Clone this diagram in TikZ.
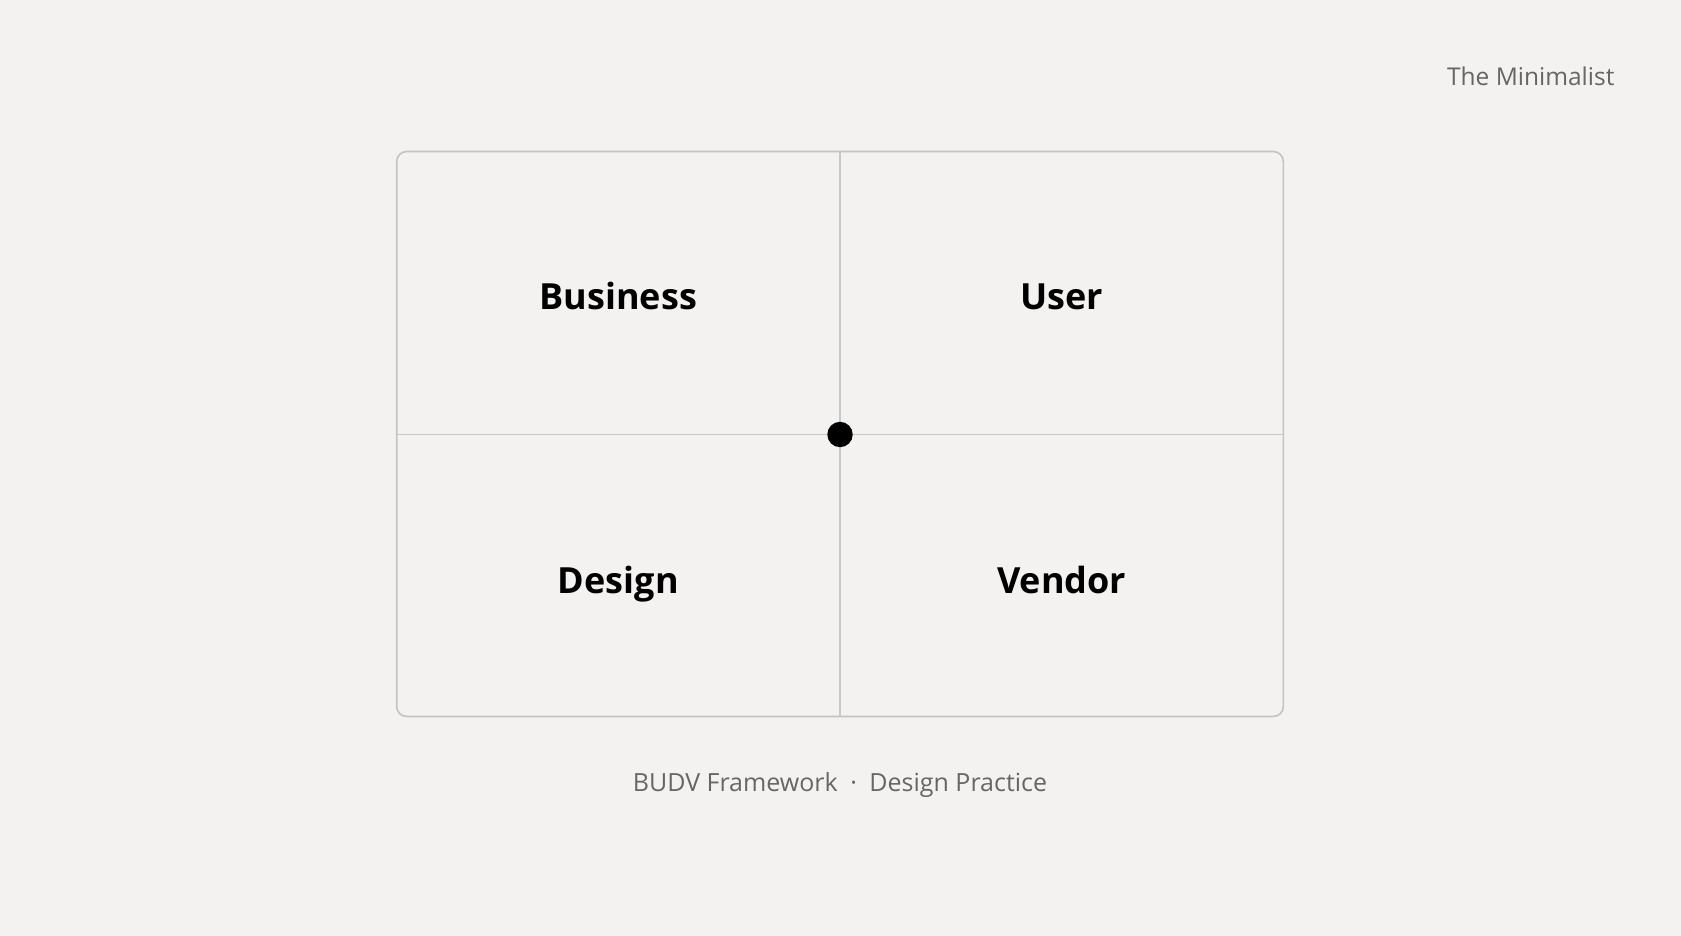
\documentclass[tikz,border=0pt]{standalone}
\usepackage{fontspec}
\setmainfont{Open Sans}
\definecolor{bg}{HTML}{F3F2F0}
\definecolor{grid}{HTML}{C9C8C6}
\definecolor{frame}{HTML}{C4C3C1}
\definecolor{subtle}{HTML}{666666}
\tikzset{
  quad/.style={font=\fontsize{36}{42}\selectfont\bfseries, text=black, anchor=base},
  caption/.style={font=\fontsize{24.5}{28}\selectfont, text=subtle},
}
\begin{document}
\begin{tikzpicture}[x=1pt,y=-1pt]
\fill[bg] (0,0) rectangle (1681,936);
\useasboundingbox (0,0) rectangle (1681,936);
\coordinate (tl) at (396.7,151.5);
\coordinate (br) at (1283.3,716.5);
\coordinate (c) at (840,434.5);
\coordinate (top) at (840,151.5);
\coordinate (bot) at (840,716.5);
\coordinate (lft) at (396.7,434.5);
\coordinate (rgt) at (1283.3,434.5);
\draw[grid, line width=1.4pt] (top) -- (bot);
\draw[grid, line width=1.4pt] (lft) -- (rgt);
\draw[frame, line width=1.6pt, rounded corners=10pt] (tl) rectangle (br);
\fill[black] (c) circle (12.7);
\node[quad] (business) at (618.3,309.5) {Business};
\node[quad] (user) at (1061.7,309.5) {User};
\node[quad] (design) at (618.3,593) {Design};
\node[quad] (vendor) at (1061.7,593) {Vendor};
\node[caption, anchor=base east] (brand) at (1618,86) {The Minimalist};
\node[caption, anchor=base, font=\fontsize{25}{28}\selectfont] (foot) at (840,791) {BUDV Framework\hspace{0.5em}·\hspace{0.5em}Design Practice};
\end{tikzpicture}
\end{document}
